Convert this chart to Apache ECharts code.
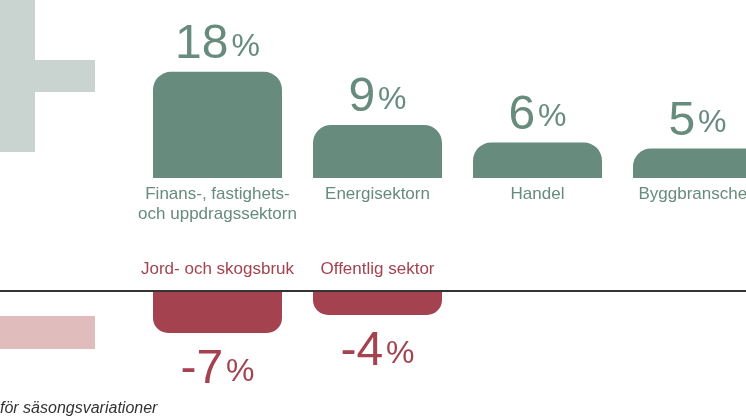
<!DOCTYPE html>
<html>
<head>
<meta charset="utf-8">
<script src="https://cdn.jsdelivr.net/npm/echarts@6/dist/echarts.min.js"></script>
<style>
  html, body { margin: 0; padding: 0; background: #fff; }
  #chart { width: 746px; height: 419px; }
</style>
</head>
<body>
<div id="chart"></div>
<script>
// data
const upSectors = ['Finans-, fastighets-\noch uppdragssektorn', 'Energisektorn', 'Handel', 'Byggbranschen'];
const upValues = [18, 9, 6, 5];
const downSectors = ['Jord- och skogsbruk', 'Offentlig sektor', '', ''];
const downValues = [-7, -4, '-', '-'];
const footnote = 'för säsongsvariationer';

const green = '#678b7d';
const red = '#a4434f';
const font = '"Liberation Sans", Arial, Helvetica, sans-serif';

let chart = echarts.init(document.getElementById('chart'));

// big number with a smaller percent sign next to it
const valueRich = (color) => ({
    n: { fontSize: 48, lineHeight: 48, color: color, fontFamily: font },
    p: { fontSize: 32, lineHeight: 36, color: color, fontFamily: font, verticalAlign: 'bottom', padding: [0, 0, 6, 3] }
});

let option = {
    animation: false,
    backgroundColor: '#fff',
    title: {
        text: footnote,
        left: 0,
        top: 401,
        padding: 0,
        textStyle: { fontSize: 16, fontStyle: 'italic', fontWeight: 'normal', color: '#333', fontFamily: font }
    },
    graphic: [
        // plus sign
        { type: 'rect', shape: { x: 0, y: 0, width: 35, height: 152 }, style: { fill: '#c9d4d0' }, silent: true },
        { type: 'rect', shape: { x: 0, y: 60, width: 95, height: 32 }, style: { fill: '#c9d4d0' }, silent: true },
        // minus sign
        { type: 'rect', shape: { x: 0, y: 316, width: 95, height: 33 }, style: { fill: '#e0bcbc' }, silent: true },
        // zero line
        { type: 'line', shape: { x1: 0, y1: 291, x2: 746, y2: 291 }, style: { stroke: '#333', lineWidth: 2 }, z: 10, silent: true }
    ],
    grid: [
        { left: 137.5, width: 640, top: 60, height: 118, outerBoundsMode: 'none' },
        { left: 137.5, width: 640, top: 291, height: 60, outerBoundsMode: 'none' }
    ],
    xAxis: [
        {
            type: 'category',
            gridIndex: 0,
            data: upSectors,
            axisLine: { show: false },
            axisTick: { show: false },
            axisLabel: {
                interval: 0,
                margin: 6,
                color: green,
                fontSize: 17,
                lineHeight: 20,
                fontFamily: font
            }
        },
        {
            type: 'category',
            gridIndex: 1,
            position: 'top',
            data: downSectors,
            axisLine: { show: false },
            axisTick: { show: false },
            axisLabel: {
                interval: 0,
                margin: 12,
                color: red,
                fontSize: 17,
                lineHeight: 20,
                fontFamily: font
            }
        }
    ],
    yAxis: [
        { type: 'value', gridIndex: 0, min: 0, max: 20, show: false },
        { type: 'value', gridIndex: 1, min: -10, max: 0, show: false }
    ],
    series: [
        {
            type: 'bar',
            xAxisIndex: 0,
            yAxisIndex: 0,
            data: upValues,
            barWidth: 129,
            itemStyle: { color: green, borderRadius: [18, 18, 0, 0] },
            label: {
                show: true,
                position: 'top',
                distance: 3,
                formatter: (p) => '{n|' + p.value + '}{p|%}',
                rich: valueRich(green)
            }
        },
        {
            type: 'bar',
            xAxisIndex: 1,
            yAxisIndex: 1,
            data: downValues,
            barWidth: 129,
            itemStyle: { color: red, borderRadius: [0, 0, 15, 15] },
            label: {
                show: true,
                position: 'bottom',
                distance: 13,
                formatter: (p) => '{n|-' + Math.abs(p.value) + '}{p|%}',
                rich: valueRich(red)
            }
        }
    ]
};

option && chart.setOption(option);
</script>
</body>
</html>
